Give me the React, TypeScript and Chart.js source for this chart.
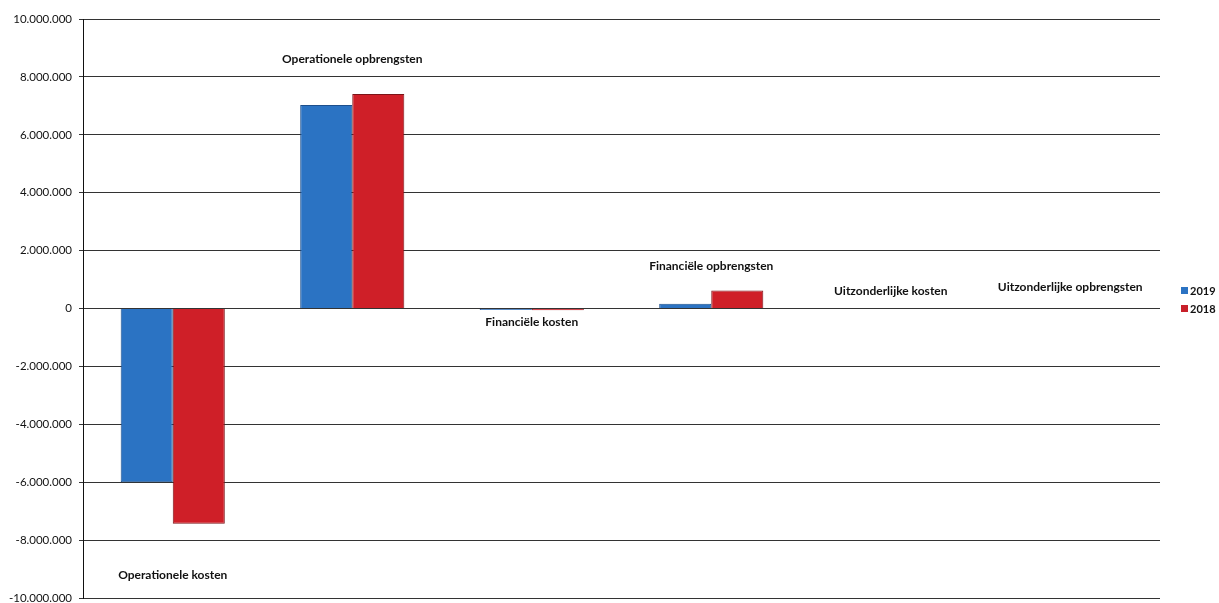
import React, { useEffect, useRef } from "react";
import { Chart, registerables } from "chart.js";

Chart.register(...registerables);

const categories = [
  "Operationele kosten",
  "Operationele opbrengsten",
  "Financiële kosten",
  "Financiële opbrengsten",
  "Uitzonderlijke kosten",
  "Uitzonderlijke opbrengsten",
];
const values2019 = [-6000000, 7030000, -50000, 170000, 0, 0];
const values2018 = [-7430000, 7410000, -60000, 620000, 0, 0];
// vertical anchor (in data units) of each category label
const labelValues = [-9220000, 8600000, -470000, 1460000, 590000, 740000];
const seriesNames = ["2019", "2018"];
const yMin = -10000000;
const yMax = 10000000;
const yStep = 2000000;

const fmt = (v: number) => {
  const s = Math.abs(Math.round(v)).toString().replace(/\B(?=(\d{3})+(?!\d))/g, ".");
  return (v < 0 ? "-" : "") + s;
};

const FONT = "Lato, 'Open Sans', sans-serif";

const labelsPlugin = {
  id: "catLabels",
  afterDatasetsDraw(chart: any) {
    const { ctx } = chart;
    const x = chart.scales.x;
    const y = chart.scales.y;
    ctx.save();
    ctx.font = `bold 12px ${FONT}`;
    ctx.fillStyle = "#111";
    ctx.textAlign = "center";
    ctx.textBaseline = "middle";
    categories.forEach((c, i) => {
      ctx.fillText(c, x.getPixelForValue(i), y.getPixelForValue(labelValues[i]));
    });
    ctx.restore();
  },
};

const legendPlugin = {
  id: "sideLegend",
  afterDraw(chart: any) {
    const { ctx, chartArea } = chart;
    const colors = ["#2b73c3", "#c8202a"];
    const cy = 300;
    ctx.save();
    ctx.font = `bold 11px ${FONT}`;
    ctx.textBaseline = "middle";
    ctx.textAlign = "left";
    seriesNames.forEach((n, i) => {
      const yy = cy - 9 + i * 18;
      const xx = chartArea.right + 21;
      ctx.fillStyle = colors[i];
      ctx.fillRect(xx, yy - 4, 7, 7);
      ctx.fillStyle = "#111";
      ctx.fillText(n, xx + 9, yy);
    });
    ctx.restore();
  },
};

export default function App() {
  const ref = useRef<HTMLCanvasElement>(null);
  useEffect(() => {
    if (!ref.current) return;
    const chart = new Chart(ref.current, {
      type: "bar",
      data: {
        labels: categories,
        datasets: [
          {
            label: seriesNames[0],
            data: values2019,
            backgroundColor: "#2b73c3",
            borderColor: "#1d4f8c",
            borderWidth: 1,
            categoryPercentage: 0.58,
            barPercentage: 1.0,
          },
          {
            label: seriesNames[1],
            data: values2018,
            backgroundColor: "#cf1f28",
            borderColor: "#7d1418",
            borderWidth: 1,
            categoryPercentage: 0.58,
            barPercentage: 1.0,
          },
        ],
      },
      options: {
        animation: false,
        responsive: true,
        maintainAspectRatio: false,
        layout: { padding: { left: 0, right: 59, top: 19, bottom: 0 } },
        plugins: { legend: { display: false }, tooltip: { enabled: false } },
        scales: {
          x: { display: false },
          y: {
            min: yMin,
            max: yMax,
            afterFit: (s: any) => {
              s.width = 83;
            },
            ticks: {
              stepSize: yStep,
              padding: 7,
              color: "#111",
              font: { family: FONT, size: 11.5 },
              callback: (v: any) => fmt(Number(v)),
            },
            grid: {
              color: "#333",
              lineWidth: 1,
              tickLength: 4,
              drawTicks: true,
            },
            border: { display: true, color: "#111", width: 1 },
          },
        },
      },
      plugins: [labelsPlugin, legendPlugin],
    });
    return () => chart.destroy();
  }, []);
  return (
    <div style={{ position: "absolute", left: 0, top: 0, width: 1219, height: 603, overflow: "hidden", background: "#fff" }}>
      <div style={{ position: "relative", width: 1219, height: 612 }}>
        <canvas ref={ref} />
      </div>
    </div>
  );
}
